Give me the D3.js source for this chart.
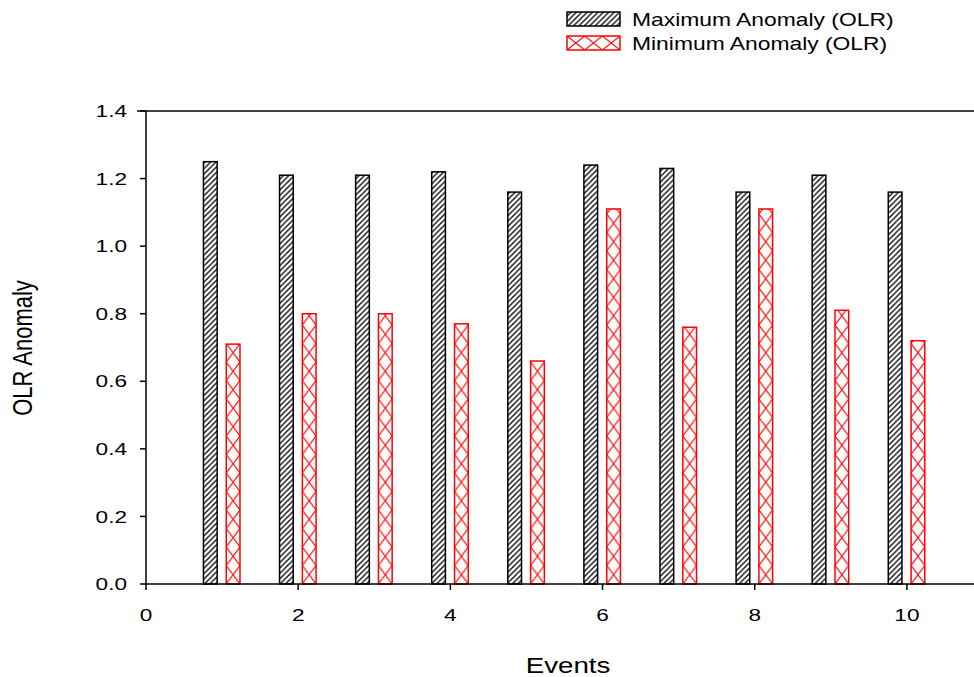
<!DOCTYPE html>
<html>
<head>
<meta charset="utf-8">
<script src="https://cdn.jsdelivr.net/npm/d3@7"></script>
<style>
  body { margin: 0; background: #fff; }
  svg { display: block; font-family: "Liberation Sans", Arial, sans-serif; }
</style>
</head>
<body>
<div id="chart"></div>
<script>
// data
const events = [1, 2, 3, 4, 5, 6, 7, 8, 9, 10];
const maxAnomaly = [1.25, 1.21, 1.21, 1.22, 1.16, 1.24, 1.23, 1.16, 1.21, 1.16];
const minAnomaly = [0.71, 0.80, 0.80, 0.77, 0.66, 1.11, 0.76, 1.11, 0.81, 0.72];
const xTicks = [0, 2, 4, 6, 8, 10];
const yTicks = [0, 0.2, 0.4, 0.6, 0.8, 1.0, 1.2, 1.4];
const seriesNames = ['Maximum Anomaly (OLR)', 'Minimum Anomaly (OLR)'];

const width = 974, height = 677;
const sx = 1.33; // the original picture is stretched sideways

const svg = d3.select('#chart').append('svg')
  .attr('width', width)
  .attr('height', height);

const x = d3.scaleLinear().domain([0, 11]).range([146, 983]);
const y = d3.scaleLinear().domain([0, 1.4]).range([584, 111]);

const defs = svg.append('defs');

// diagonal hatch for the maximum series
const hatch = defs.append('pattern')
  .attr('id', 'hatch')
  .attr('patternUnits', 'userSpaceOnUse')
  .attr('width', 5.4).attr('height', 5.4);
hatch.append('rect').attr('width', 5.4).attr('height', 5.4).attr('fill', '#fff');
hatch.append('path')
  .attr('d', 'M-1,1 L1,-1 M0,5.4 L5.4,0 M4.4,6.4 L6.4,4.4')
  .attr('stroke', '#000').attr('stroke-width', 1.3);

// cross pattern for the minimum series, one per bar so it lines up with the bar
function crossPattern(id, px, py, w, h) {
  const p = defs.append('pattern')
    .attr('id', id)
    .attr('patternUnits', 'userSpaceOnUse')
    .attr('x', px).attr('y', py)
    .attr('width', w).attr('height', h);
  p.append('rect').attr('width', w).attr('height', h).attr('fill', '#fff');
  p.append('path')
    .attr('d', `M0,0 L${w},${h} M${w},0 L0,${h}`)
    .attr('stroke', '#ff0000').attr('stroke-width', 1.1);
}

const blackOff = [-0.245, -0.065];
const redOff = [0.055, 0.235];

// bars
svg.selectAll('rect.maxbar')
  .data(events)
  .enter()
  .append('rect')
  .attr('class', 'maxbar')
  .attr('x', (d) => x(d + blackOff[0]))
  .attr('width', (d) => x(d + blackOff[1]) - x(d + blackOff[0]))
  .attr('y', (d, i) => y(maxAnomaly[i]))
  .attr('height', (d, i) => y(0) - y(maxAnomaly[i]))
  .attr('fill', 'url(#hatch)')
  .attr('stroke', '#000')
  .attr('stroke-width', 1.5);

events.forEach((d, i) => {
  const bx = x(d + redOff[0]);
  const bw = x(d + redOff[1]) - bx;
  crossPattern('cross' + i, bx, y(0), bw, 18.5);
});

svg.selectAll('rect.minbar')
  .data(events)
  .enter()
  .append('rect')
  .attr('class', 'minbar')
  .attr('x', (d) => x(d + redOff[0]))
  .attr('width', (d) => x(d + redOff[1]) - x(d + redOff[0]))
  .attr('y', (d, i) => y(minAnomaly[i]))
  .attr('height', (d, i) => y(0) - y(minAnomaly[i]))
  .attr('fill', (d, i) => `url(#cross${i})`)
  .attr('stroke', '#ff0000')
  .attr('stroke-width', 1.5);

// axes
const axisG = svg.append('g').attr('stroke', '#000').attr('stroke-width', 1.5);
axisG.append('line').attr('x1', x(0)).attr('x2', width).attr('y1', y(0)).attr('y2', y(0));
axisG.append('line').attr('x1', x(0) - 9).attr('x2', width).attr('y1', y(1.4)).attr('y2', y(1.4));
axisG.append('line').attr('x1', x(0)).attr('x2', x(0)).attr('y1', y(0)).attr('y2', y(1.4));

axisG.selectAll('line.ytick')
  .data(yTicks)
  .enter()
  .append('line')
  .attr('x1', x(0) - 6).attr('x2', x(0))
  .attr('y1', (d) => y(d)).attr('y2', (d) => y(d));

axisG.selectAll('line.xtick')
  .data(xTicks)
  .enter()
  .append('line')
  .attr('x1', (d) => x(d)).attr('x2', (d) => x(d))
  .attr('y1', y(0)).attr('y2', y(0) + 6);

svg.selectAll('text.ylab')
  .data(yTicks)
  .enter()
  .append('text')
  .attr('transform', (d) => `translate(127,${y(d)}) scale(${sx},1)`)
  .attr('dy', '0.36em')
  .attr('text-anchor', 'end')
  .style('font-size', '17px')
  .text((d) => d3.format('.1f')(d));

svg.selectAll('text.xlab')
  .data(xTicks)
  .enter()
  .append('text')
  .attr('transform', (d) => `translate(${x(d)},621) scale(${sx},1)`)
  .attr('text-anchor', 'middle')
  .style('font-size', '17px')
  .text((d) => d);

// axis titles
svg.append('text')
  .attr('transform', `translate(568,673) scale(1.26,1)`)
  .attr('text-anchor', 'middle')
  .style('font-size', '22px')
  .text('Events');

svg.append('text')
  .attr('transform', `translate(32,348) scale(1.26,1) rotate(-90)`)
  .attr('text-anchor', 'middle')
  .style('font-size', '22px')
  .text('OLR Anomaly');

// legend
crossPattern('crossLegendTile', 567, 36, 17.7, 14);
const legend = svg.append('g');
const legendFills = ['url(#hatch)', 'url(#crossLegendTile)'];
const legendStroke = ['#000', '#ff0000'];
seriesNames.forEach((name, i) => {
  legend.append('rect')
    .attr('x', 567).attr('y', 12 + i * 24)
    .attr('width', 53).attr('height', 14)
    .attr('fill', legendFills[i])
    .attr('stroke', legendStroke[i])
    .attr('stroke-width', 1.5);
  legend.append('text')
    .attr('transform', `translate(632,${26 + i * 24}) scale(1.27,1)`)
    .style('font-size', '18px')
    .text(name);
});
</script>
</body>
</html>
